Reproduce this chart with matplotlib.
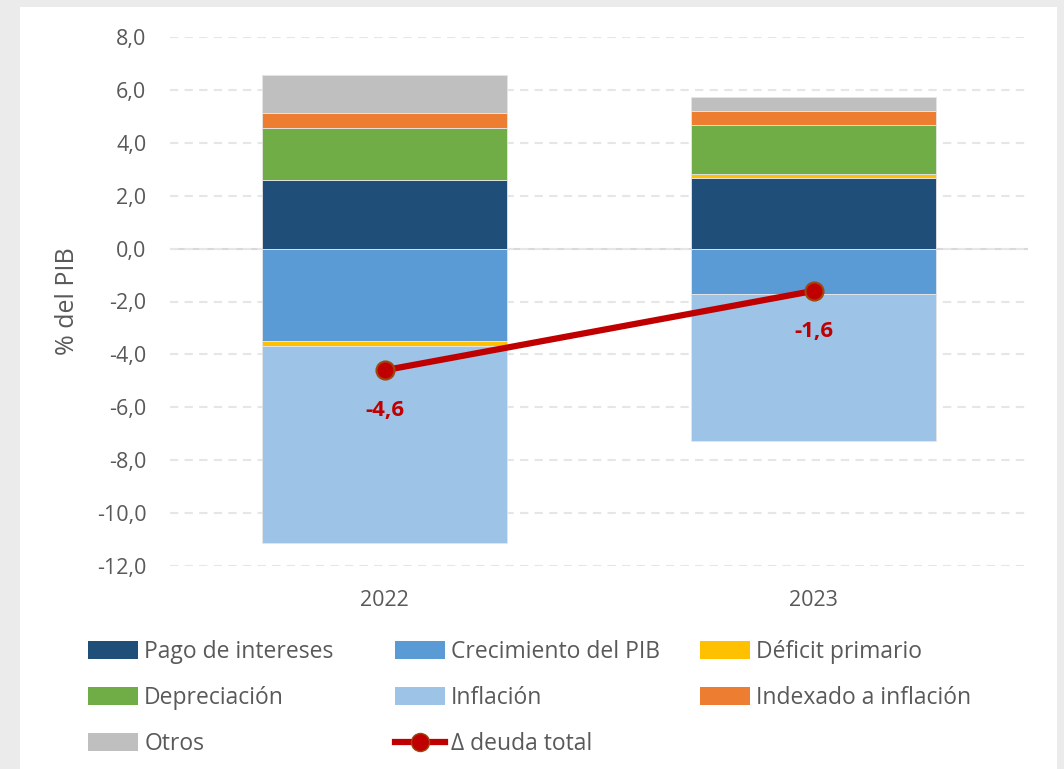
import matplotlib
matplotlib.use('Agg')
import matplotlib.pyplot as plt
import numpy as np
from matplotlib.patches import Patch
from matplotlib.lines import Line2D

years = ['2022', '2023']
series = ['Pago de intereses', 'Crecimiento del PIB', 'Déficit primario',
          'Depreciación', 'Inflación', 'Indexado a inflación', 'Otros']
pago = [2.6, 2.66]
crecimiento = [-3.5, -1.7]
deficit = [-0.17, 0.15]
depreciacion = [1.97, 1.85]
inflacion = [-7.45, -5.58]
indexado = [0.56, 0.54]
otros = [1.42, 0.52]
deuda_total = [-4.6, -1.6]
deuda_labels = ['-4,6', '-1,6']

colors = ['#1f4e79', '#5b9bd5', '#ffc000', '#70ad47', '#9dc3e6', '#ed7d31', '#bfbfbf']
values = [pago, crecimiento, deficit, depreciacion, inflacion, indexado, otros]

plt.rcParams['font.family'] = ['Open Sans', 'DejaVu Sans']

fig = plt.figure(figsize=(10.64, 7.69), dpi=100, facecolor='#ebebeb')
# white panel
fig.patches.append(plt.Rectangle((20 / 1064, 0), (1057 - 20) / 1064, 1 - 7 / 769,
                                 transform=fig.transFigure, facecolor='white',
                                 edgecolor='none', zorder=-1))
ax = fig.add_axes([170 / 1064, 1 - 566 / 769, 858 / 1064, 529 / 769])
ax.set_facecolor('none')

x = np.arange(len(years))
pos_bottom = np.zeros(len(years))
neg_bottom = np.zeros(len(years))
for vals, c in zip(values, colors):
    vals = np.array(vals)
    bottom = np.where(vals >= 0, pos_bottom, neg_bottom)
    ax.bar(x, vals, width=0.57, bottom=bottom, color=c, edgecolor='#e6e6e6',
           linewidth=0.6, zorder=2)
    pos_bottom = pos_bottom + np.where(vals >= 0, vals, 0)
    neg_bottom = neg_bottom + np.where(vals < 0, vals, 0)

ax.plot(x, deuda_total, color='#c00000', linewidth=4.5, marker='o', markersize=13,
        markerfacecolor='#c00000', markeredgecolor='#9e480e', markeredgewidth=1.5, zorder=4)
for xi, yi, lab in zip(x, deuda_total, deuda_labels):
    ax.annotate(lab, (xi, yi), xytext=(0, -29), textcoords='offset points',
                ha='center', va='center', color='#c00000', fontsize=16,
                fontweight='bold', zorder=5)

ax.set_xlim(-0.5, 1.5)
ax.set_ylim(-12, 8)
ax.set_yticks(np.arange(-12, 9, 2))
ax.set_yticklabels([f'{v:.1f}'.replace('.', ',') for v in np.arange(-12, 9, 2)])
ax.set_xticks(x)
ax.set_xticklabels(years)
ax.tick_params(axis='both', length=0, labelsize=15.5, colors='#595959')
ax.tick_params(axis='y', pad=17)
ax.tick_params(axis='x', pad=17)
ax.grid(axis='y', color='#e6e6e6', linestyle=(0, (4, 3)), linewidth=1.5, zorder=0)
ax.axhline(0, color='#d9d9d9', linewidth=1.5, zorder=1)
for s in ax.spines.values():
    s.set_visible(False)
ax.set_ylabel('% del PIB', fontsize=18, color='#595959', labelpad=12)

handles = [Patch(facecolor=c) for c in colors]
line_handle = Line2D([0], [0], color='#c00000', linewidth=4.5, marker='o', markersize=13,
                     markerfacecolor='#c00000', markeredgecolor='#9e480e')
columns = [
    ([handles[0], handles[3], handles[6]], [series[0], series[3], series[6]], 88),
    ([handles[1], handles[4], line_handle], [series[1], series[4], 'Δ deuda total'], 395),
    ([handles[2], handles[5]], [series[2], series[5]], 700),
]
for hs, ls, xpos in columns:
    leg = fig.legend(hs, ls, loc='upper left', bbox_to_anchor=(xpos / 1064, 1 - 640 / 769),
                     frameon=False, fontsize=16.5, handlelength=2.2, handleheight=0.8,
                     handletextpad=0.25, labelspacing=0.96, borderaxespad=0, borderpad=0)
    for t in leg.get_texts():
        t.set_color('#595959')

fig.savefig('out.png', dpi=100, facecolor=fig.get_facecolor())
